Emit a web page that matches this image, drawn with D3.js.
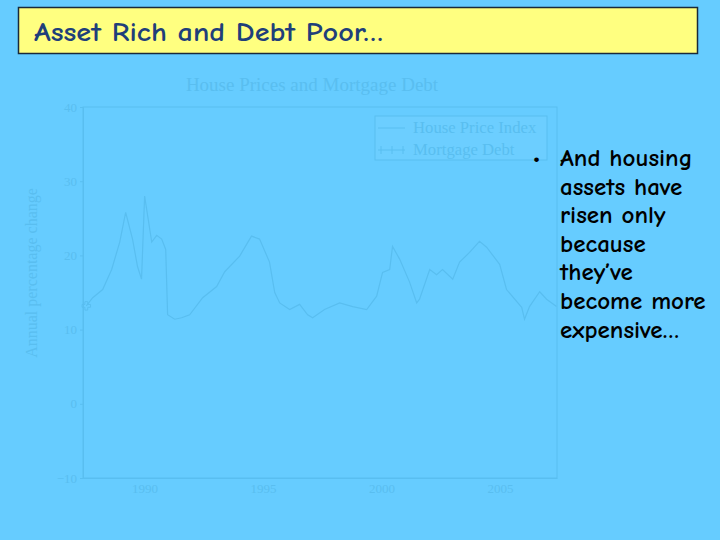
<!DOCTYPE html>
<html>
<head>
<meta charset="utf-8">
<script src="https://cdn.jsdelivr.net/npm/d3@7"></script>
<style>
  html, body { margin: 0; padding: 0; background: #66CCFF; }
  svg { display: block; }
</style>
</head>
<body>
<svg id="chart" width="720" height="540"></svg>
<script>
// ---- data ----
const slideTitle = "Asset Rich and Debt Poor…";
const chartTitle = "House Prices and Mortgage Debt";
const yAxisLabel = "Annual percentage change";
const seriesNames = ["House Price Index", "Mortgage Debt"];
const yTicks = [-10, 0, 10, 20, 30, 40];
const xTicks = [1990, 1995, 2000, 2005];
const debtYears = [1987.54, 1987.81, 1988.23, 1988.61, 1988.95, 1989.20, 1989.49, 1989.70, 1989.87, 1990.00,
  1990.30, 1990.51, 1990.72, 1990.89, 1990.97, 1991.27, 1991.56, 1991.90, 1992.45, 1993.04,
  1993.38, 1994.01, 1994.51, 1994.85, 1995.27, 1995.49, 1995.70, 1996.12, 1996.54, 1996.88,
  1997.09, 1997.59, 1998.23, 1998.78, 1999.37, 1999.79, 2000.04, 2000.34, 2000.46, 2000.76,
  2001.18, 2001.48, 2001.60, 2002.03, 2002.32, 2002.57, 2003.00, 2003.29, 2003.71, 2004.13,
  2004.43, 2004.98, 2005.27, 2005.91, 2006.03, 2006.24, 2006.67, 2006.96, 2007.38];
const debtValues = [13.2, 14.3, 15.4, 18.1, 21.8, 25.8, 22.2, 18.5, 16.8, 28.0,
  21.8, 22.7, 22.2, 20.8, 12.0, 11.4, 11.6, 12.0, 14.3, 15.8,
  17.8, 19.9, 22.6, 22.2, 19.1, 15.0, 13.6, 12.7, 13.4, 12.0,
  11.6, 12.7, 13.6, 13.1, 12.7, 14.5, 17.7, 18.1, 21.2, 19.5,
  16.4, 13.6, 14.1, 18.1, 17.4, 18.1, 16.8, 19.1, 20.4, 21.9,
  21.1, 18.8, 15.4, 13.0, 11.4, 13.1, 15.1, 14.1, 13.1];
const bulletLines = ["And housing", "assets have", "risen only", "because", "they’ve", "become more", "expensive…"];

// ---- drawing ----
const svg = d3.select("#chart");
const faint = "#59BEF0";
const comic = "'Comic Sans MS', 'Comic Neue', 'DejaVu Sans', sans-serif";
const serif = "'Liberation Serif', 'DejaVu Serif', serif";

// title box
svg.append("rect").attr("x", 18.5).attr("y", 7.5).attr("width", 679).attr("height", 46)
  .attr("fill", "#FFFF80").attr("stroke", "#1a2a3a").attr("stroke-width", 1.5);
svg.append("text").attr("x", 34).attr("y", 41).attr("font-family", comic).attr("font-size", 27)
  .attr("font-weight", "bold").attr("fill", "#1F3F7A").attr("textLength", 349)
  .attr("lengthAdjust", "spacingAndGlyphs").text(slideTitle);

// chart scales
const x = d3.scaleLinear().domain([1987.4, 2007.4]).range([83, 557]);
const y = d3.scaleLinear().domain([-10, 40]).range([478, 107]);

const g = svg.append("g");

// frame
g.append("rect").attr("x", x.range()[0]).attr("y", y.range()[1])
  .attr("width", x.range()[1] - x.range()[0]).attr("height", y.range()[0] - y.range()[1])
  .attr("fill", "none").attr("stroke", faint).attr("stroke-width", 1);

// axes
const yAxis = d3.axisLeft(y).tickValues(yTicks).tickSize(3).tickFormat(d => d < 0 ? "−" + Math.abs(d) : d);
const yg = g.append("g").attr("transform", `translate(${x.range()[0]},0)`).call(yAxis);
const xAxis = d3.axisBottom(x).tickValues(xTicks).tickSize(0).tickPadding(6).tickFormat(d3.format("d"));
const xg = g.append("g").attr("transform", `translate(0,${y.range()[0]})`).call(xAxis);
[yg, xg].forEach(a => {
  a.select(".domain").attr("stroke", faint);
  a.selectAll(".tick line").attr("stroke", faint);
  a.selectAll(".tick text").attr("fill", faint).attr("font-family", serif).attr("font-size", 13);
});

// chart title
g.append("text").attr("x", 312).attr("y", 91).attr("text-anchor", "middle")
  .attr("font-family", serif).attr("font-size", 19).attr("fill", faint).text(chartTitle);

// y label
g.append("text").attr("transform", "translate(37,273) rotate(-90)").attr("text-anchor", "middle")
  .attr("font-family", serif).attr("font-size", 16).attr("fill", faint).text(yAxisLabel);

// data line
const pts = debtYears.map((d, i) => [d, debtValues[i]]);
const line = d3.line().x(d => x(d[0])).y(d => y(d[1]));
g.append("path").datum(pts).attr("d", line).attr("fill", "none")
  .attr("stroke", faint).attr("stroke-width", 1.2);
g.append("path").attr("d", d3.symbol(d3.symbolCross, 40)())
  .attr("transform", `translate(${x(pts[0][0])},${y(pts[0][1])})`)
  .attr("fill", "none").attr("stroke", faint).attr("stroke-width", 1);

// legend
const lg = g.append("g").attr("transform", "translate(375,116)");
lg.append("rect").attr("width", 172).attr("height", 44).attr("fill", "#6CCEFF")
  .attr("stroke", faint).attr("stroke-width", 1);
seriesNames.forEach((name, i) => {
  const yy = 12 + i * 22;
  lg.append("line").attr("x1", 3).attr("x2", 30).attr("y1", yy).attr("y2", yy)
    .attr("stroke", faint).attr("stroke-width", 1);
  if (i === 1) {
    [6, 17, 28].forEach(px => {
      lg.append("line").attr("x1", px).attr("x2", px).attr("y1", yy - 4).attr("y2", yy + 4)
        .attr("stroke", faint).attr("stroke-width", 1);
    });
  }
  lg.append("text").attr("x", 38).attr("y", yy + 5).attr("font-family", serif).attr("font-size", 16.7)
    .attr("fill", faint).text(name);
});

// bullet text
svg.append("text").attr("x", 533).attr("y", 165).attr("font-family", comic).attr("font-size", 22)
  .attr("font-weight", "bold").attr("fill", "#000").text("•");
bulletLines.forEach((t, i) => {
  svg.append("text").attr("x", 560).attr("y", 166 + i * 28.6).attr("font-family", comic)
    .attr("font-size", 25).attr("font-weight", "bold").attr("fill", "#000").text(t);
});
</script>
</body>
</html>
